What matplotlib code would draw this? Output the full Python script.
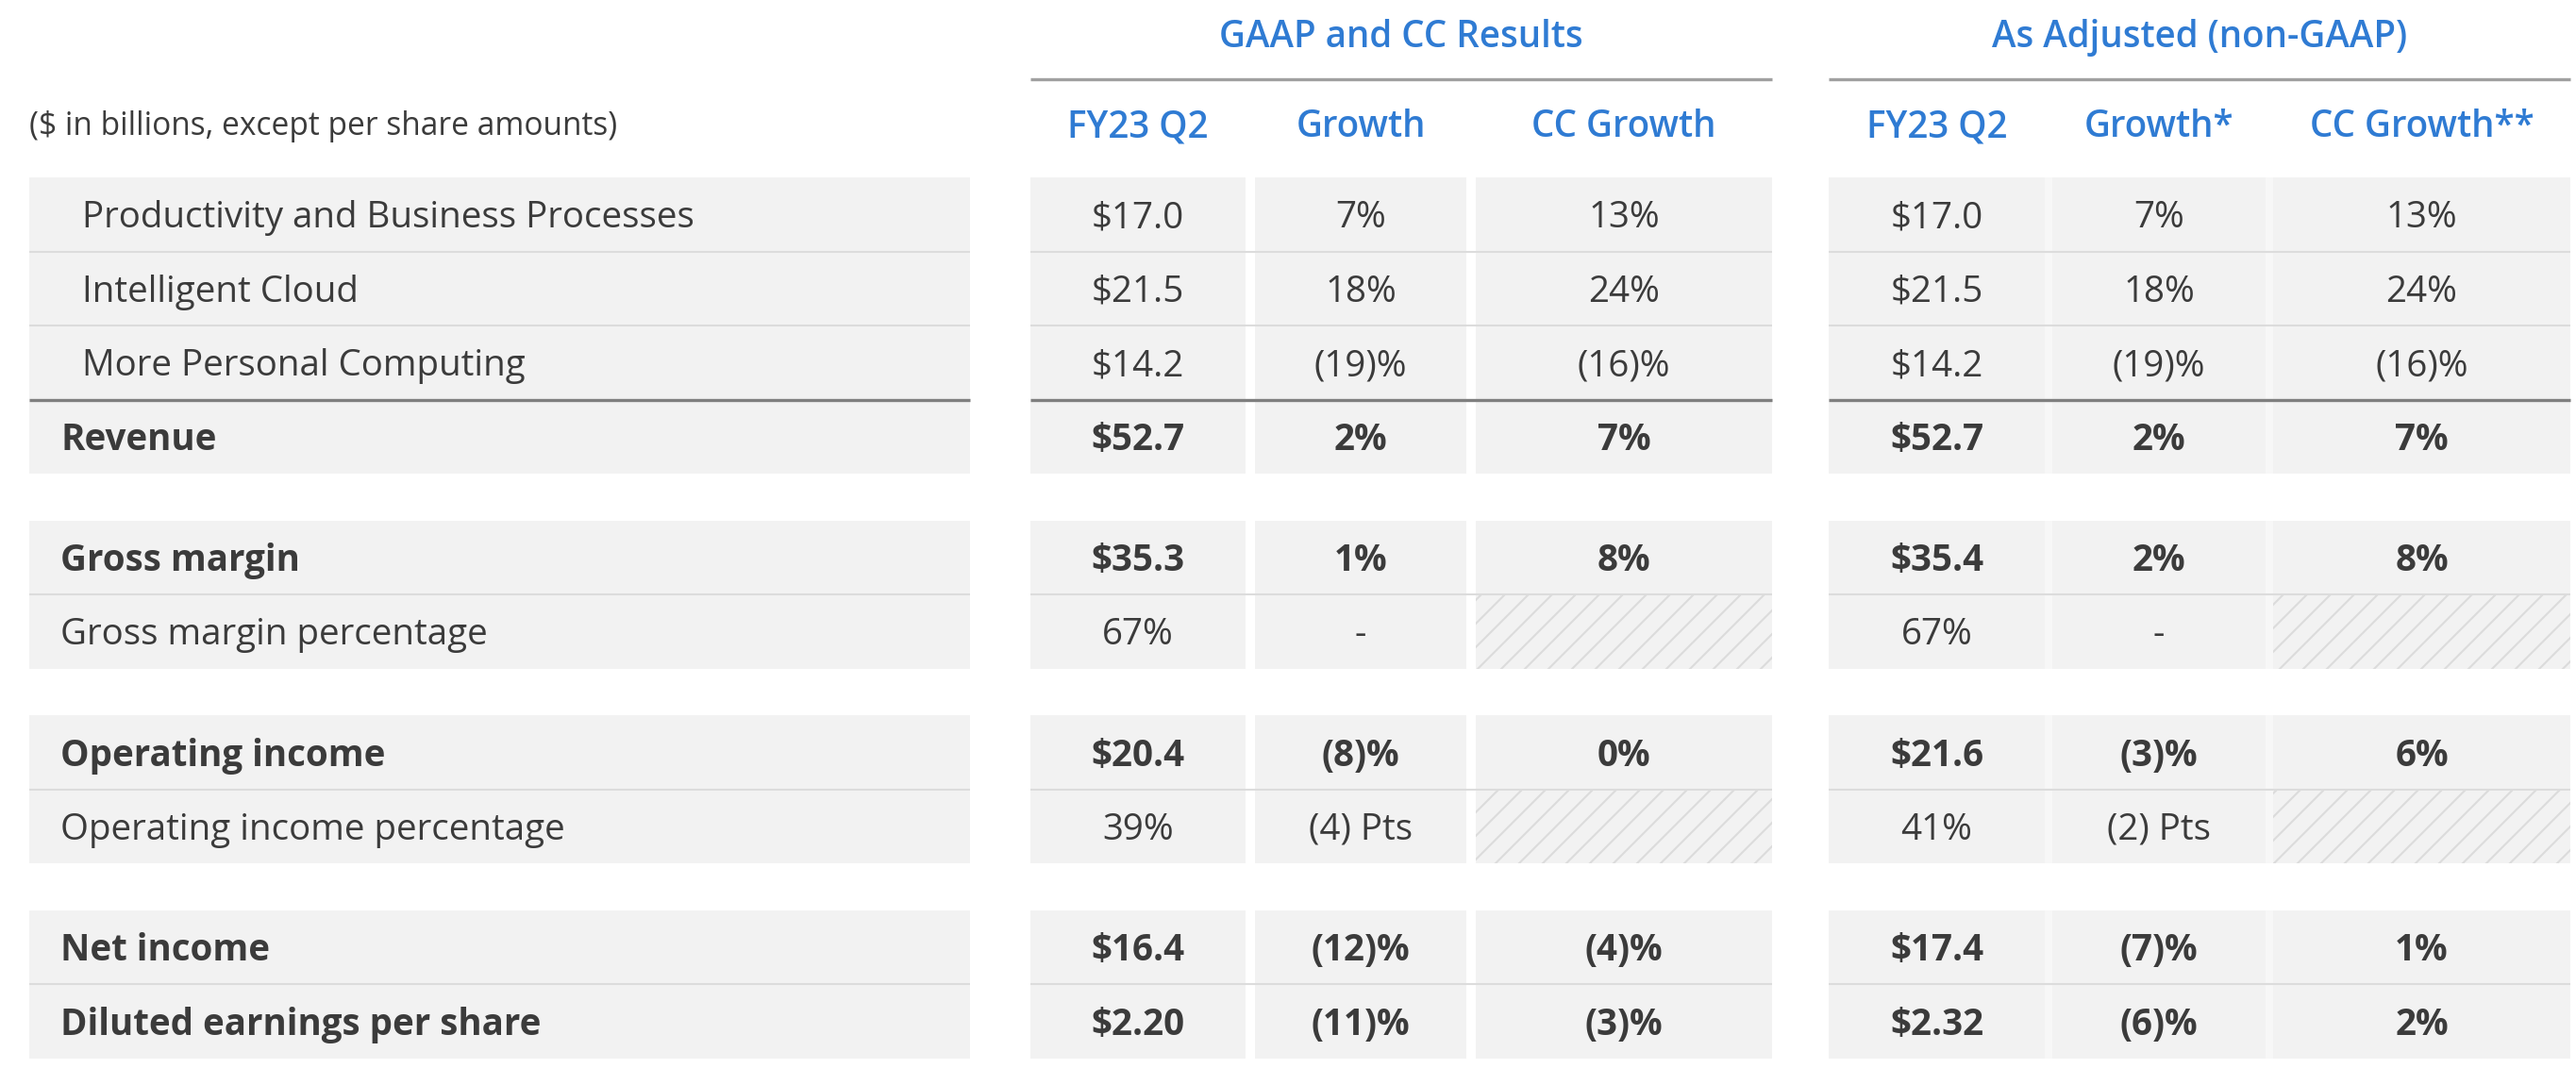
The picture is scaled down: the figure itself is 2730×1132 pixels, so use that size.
import matplotlib
matplotlib.use("Agg")
import matplotlib.pyplot as plt
from matplotlib.patches import Rectangle

plt.rcParams['font.family'] = ['Open Sans', 'DejaVu Sans']
plt.rcParams['hatch.linewidth'] = 1.0

# table content
row_labels = ["Productivity and Business Processes", "Intelligent Cloud", "More Personal Computing",
              "Revenue", "Gross margin", "Gross margin percentage", "Operating income",
              "Operating income percentage", "Net income", "Diluted earnings per share"]
bold_rows = [3, 4, 6, 8, 9]
indent_rows = [0, 1, 2]
row_groups = [[0, 1, 2, 3], [4, 5], [6, 7], [8, 9]]

group_titles = ["GAAP and CC Results", "As Adjusted (non-GAAP)"]
col_headers = ["FY23 Q2", "Growth", "CC Growth", "FY23 Q2", "Growth*", "CC Growth**"]
units_note = "($ in billions, except per share amounts)"

gaap_value = ["$17.0", "$21.5", "$14.2", "$52.7", "$35.3", "67%", "$20.4", "39%", "$16.4", "$2.20"]
gaap_growth = ["7%", "18%", "(19)%", "2%", "1%", "-", "(8)%", "(4) Pts", "(12)%", "(11)%"]
gaap_cc_growth = ["13%", "24%", "(16)%", "7%", "8%", None, "0%", None, "(4)%", "(3)%"]
adj_value = ["$17.0", "$21.5", "$14.2", "$52.7", "$35.4", "67%", "$21.6", "41%", "$17.4", "$2.32"]
adj_growth = ["7%", "18%", "(19)%", "2%", "2%", "-", "(3)%", "(2) Pts", "(7)%", "(6)%"]
adj_cc_growth = ["13%", "24%", "(16)%", "7%", "8%", None, "6%", None, "1%", "2%"]
columns = [gaap_value, gaap_growth, gaap_cc_growth, adj_value, adj_growth, adj_cc_growth]

# layout (pixels)
W, H = 2730, 1132
label_x = (31, 1028)
col_x = [(1092, 1320), (1330, 1554), (1564, 1878), (1938, 2167), (2175, 2401), (2409, 2724)]
groups_x = [(1092, 1878), (1938, 2724)]
top = 188
row_h = 78.5
gap_h = 49.5

BLUE = "#2f7bd3"
TEXT = "#3b3b3b"
FILL = "#f2f2f2"
DIV = "#dcdcdc"
FS = 18.5

fig = plt.figure(figsize=(W / 150, H / 150), dpi=150)
ax = fig.add_axes([0, 0, 1, 1])
ax.set_xlim(0, W)
ax.set_ylim(H, 0)
ax.axis("off")

# row positions
row_y = {}
y = top
for g in row_groups:
    for r in g:
        row_y[r] = y
        y += row_h
    y += gap_h

# headers
for (x0, x1), title in zip(groups_x, group_titles):
    ax.text((x0 + x1) / 2, 40, title, ha="center", va="center", color=BLUE,
            fontsize=FS, fontweight="semibold")
    ax.plot([x0, x1], [84, 84], color="#a0a0a0", lw=1.6, solid_capstyle="butt")
for (x0, x1), h in zip(col_x, col_headers):
    ax.text((x0 + x1) / 2, 135, h, ha="center", va="center", color=BLUE,
            fontsize=FS, fontweight="semibold")
ax.text(label_x[0], 134, units_note, ha="left", va="center", color=TEXT, fontsize=FS * 0.87)

# cell backgrounds
for g in row_groups:
    y0 = row_y[g[0]]
    y1 = row_y[g[-1]] + row_h
    ax.add_patch(Rectangle((label_x[0], y0), label_x[1] - label_x[0], y1 - y0, fc=FILL, lw=0))
    # right group has faint separators instead of white gaps
    gx0, gx1 = groups_x[1]
    ax.add_patch(Rectangle((gx0, y0), gx1 - gx0, y1 - y0, fc="#f7f7f7", lw=0))
    for ci, (x0, x1) in enumerate(col_x):
        for r in g:
            if columns[ci][r] is None:
                ax.add_patch(Rectangle((x0, row_y[r]), x1 - x0, row_h, fc=FILL, ec="#dcdcdc",
                                       lw=0, hatch="//"))
            else:
                ax.add_patch(Rectangle((x0, row_y[r]), x1 - x0, row_h, fc=FILL, lw=0))
    # dividers between rows
    for r in g[1:]:
        yy = row_y[r]
        lw, c = (1.6, "#7f7f7f") if r == 3 else (1.0, DIV)
        for x0, x1 in [label_x] + groups_x:
            ax.plot([x0, x1], [yy, yy], color=c, lw=lw, solid_capstyle="butt")

# text
for r, label in enumerate(row_labels):
    yc = row_y[r] + row_h / 2 + 4
    weight = "bold" if r in bold_rows else "normal"
    lx = 87 if r in indent_rows else 64
    ax.text(lx, yc, label, ha="left", va="center", color=TEXT, fontsize=FS, fontweight=weight)
    for ci, (x0, x1) in enumerate(col_x):
        val = columns[ci][r]
        if val is None:
            continue
        ax.text((x0 + x1) / 2, yc, val, ha="center", va="center", color=TEXT,
                fontsize=FS, fontweight=weight)

fig.savefig("out.png", dpi=150, facecolor="white")
